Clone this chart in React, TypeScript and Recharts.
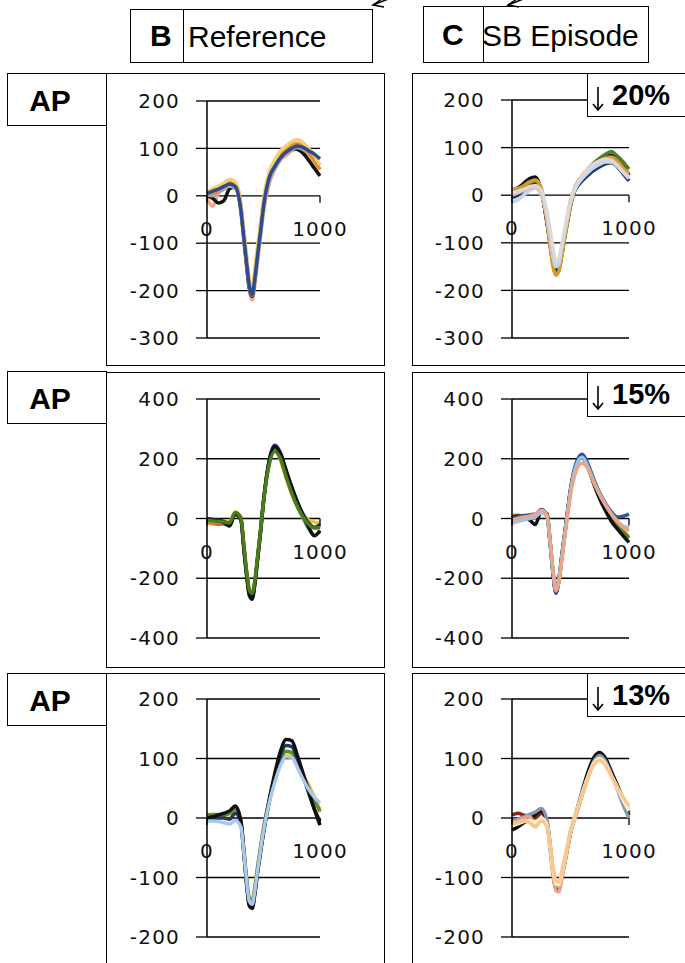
import React from 'react';
import { LineChart, Line, XAxis, YAxis, CartesianGrid, ReferenceDot } from 'recharts';

// sample times (x axis, 0..1000)
const X = [0, 50, 100, 150, 200, 250, 300, 325, 350, 375, 400, 425, 450, 475, 500, 550, 600, 650, 700, 750, 800, 850, 900, 950, 1000];
const X_LABELS = [0, 1000];

const TICKS_300 = [-300, -200, -100, 0, 100, 200];
const TICKS_400 = [-400, -200, 0, 200, 400];
const TICKS_200 = [-200, -100, 0, 100, 200];

// Row 1 — Reference
const r1RefSalmon = [-5, -22, 5, 15, 22, 18, -35, -95, -150, -200, -220, -185, -135, -85, -35, 25, 55, 75, 85, 95, 100, 95, 85, 70, 55];
const r1RefBlack = [0, -5, -15, -10, 15, 18, -28, -85, -145, -195, -212, -172, -118, -68, -18, 40, 68, 85, 95, 100, 98, 90, 75, 58, 42];
const r1RefGray = [2, 0, 8, 14, 20, 16, -32, -88, -142, -192, -210, -175, -125, -78, -28, 32, 58, 78, 90, 98, 102, 98, 90, 78, 65];
const r1RefOrange = [3, 6, 12, 22, 30, 26, -18, -75, -132, -185, -205, -160, -110, -62, -15, 45, 70, 90, 100, 108, 110, 104, 92, 75, 55];
const r1RefYellow = [8, 15, 20, 27, 35, 30, -20, -70, -125, -175, -200, -150, -100, -55, -8, 50, 75, 95, 105, 114, 118, 112, 100, 85, 65];
const r1RefBlue = [5, 10, 14, 20, 25, 20, -30, -85, -140, -190, -208, -170, -120, -72, -22, 38, 62, 80, 92, 100, 105, 102, 95, 88, 78];

// Row 1 — SB episode
const r1SbNavy = [-5, 0, 10, 20, 25, 5, -58, -100, -140, -160, -152, -120, -82, -48, -15, 15, 30, 42, 52, 60, 66, 68, 60, 45, 30];
const r1SbBlack = [10, 15, 25, 35, 38, 10, -60, -100, -140, -162, -155, -125, -88, -55, -22, 20, 35, 50, 62, 72, 80, 84, 78, 62, 42];
const r1SbGreen = [5, 8, 15, 25, 30, 8, -58, -102, -145, -165, -158, -128, -90, -56, -22, 22, 40, 55, 68, 78, 86, 92, 82, 70, 55];
const r1SbOrange = [12, 14, 20, 28, 32, 15, -55, -105, -150, -168, -160, -128, -90, -55, -20, 22, 38, 52, 64, 72, 78, 80, 72, 58, 45];
const r1SbLightBlue = [-15, -10, 0, 10, 15, 0, -50, -92, -130, -150, -145, -112, -78, -45, -12, 18, 35, 48, 58, 65, 70, 70, 62, 50, 38];
const r1SbSalmon = [0, 5, 10, 15, 18, 5, -45, -85, -120, -140, -135, -108, -75, -42, -12, 22, 42, 56, 66, 72, 76, 74, 64, 50, 38];
const r1SbSilver = [5, 8, 12, 18, 20, 10, -35, -70, -110, -140, -135, -105, -72, -42, -15, 20, 40, 55, 65, 72, 75, 72, 62, 48, 35];

// Row 2 — Reference
const r2RefYellow = [-15, -18, -15, -12, -10, 22, 5, -80, -170, -235, -255, -200, -115, -30, 60, 185, 228, 195, 135, 80, 38, 10, -5, -12, -15];
const r2RefRed = [-10, -15, -20, -18, -15, 15, -2, -90, -180, -248, -260, -205, -122, -35, 58, 188, 235, 205, 148, 92, 45, 8, -18, -30, -25];
const r2RefGray = [-5, -10, -12, -15, -20, 12, -3, -95, -185, -252, -265, -212, -128, -42, 50, 182, 232, 205, 145, 88, 40, 0, -35, -55, -45];
const r2RefNavy = [0, -3, -5, -10, -18, 18, 2, -90, -182, -250, -262, -210, -125, -38, 60, 195, 245, 220, 162, 105, 55, 15, -15, -30, -20];
const r2RefBlack = [-2, -5, -8, -15, -25, 15, -5, -100, -190, -258, -270, -215, -130, -40, 55, 190, 240, 215, 160, 105, 55, 10, -30, -58, -40];
const r2RefGreen = [-5, -8, -10, -12, -15, 20, 0, -85, -175, -240, -250, -205, -120, -35, 55, 180, 225, 200, 140, 85, 40, 5, -20, -32, -30];

// Row 2 — SB episode
const r2SbYellow = [10, 12, 8, 5, 8, 25, 8, -75, -175, -245, -212, -135, -58, 20, 92, 182, 208, 175, 125, 78, 38, 5, -20, -42, -60];
const r2SbGreen = [0, 3, 2, 0, 2, 22, 6, -78, -178, -246, -210, -133, -56, 22, 95, 180, 206, 172, 120, 72, 32, 0, -25, -45, -65];
const r2SbBlack = [5, 8, 5, -5, -20, 25, 15, -75, -180, -250, -205, -125, -50, 25, 95, 180, 205, 170, 115, 65, 25, -10, -35, -58, -80];
const r2SbNavy = [0, 5, 10, 12, 15, 30, 12, -80, -182, -248, -210, -132, -55, 22, 98, 188, 215, 182, 130, 85, 50, 22, 5, 8, 15];
const r2SbLightBlue = [-15, -10, -5, 0, 5, 20, 5, -78, -175, -242, -208, -132, -55, 20, 92, 178, 205, 172, 122, 80, 45, 15, -8, -25, -30];
const r2SbSalmon = [-5, 0, 5, 8, 15, 28, 10, -70, -170, -240, -215, -140, -65, 10, 80, 160, 185, 165, 120, 80, 45, 15, -10, -30, -42];

// Row 3 — Reference
const r3RefOrange = [2, 4, 5, 6, 8, 12, -6, -52, -102, -135, -140, -115, -80, -48, -18, 30, 68, 95, 110, 108, 92, 72, 55, 35, 10];
const r3RefYellow = [5, 6, 5, 4, 5, 10, -8, -55, -105, -138, -142, -118, -82, -50, -20, 28, 65, 92, 108, 106, 90, 70, 52, 35, 15];
const r3RefGreen = [5, 6, 6, 5, 8, 15, -4, -50, -100, -135, -138, -115, -80, -48, -18, 30, 68, 98, 112, 110, 92, 70, 50, 30, 12];
const r3RefNavy = [-3, -2, 0, 0, -2, 8, -10, -58, -110, -146, -150, -124, -88, -55, -24, 26, 70, 105, 122, 120, 98, 70, 42, 15, -5];
const r3RefBlack = [0, 2, 5, 8, 12, 20, -5, -55, -110, -148, -152, -125, -88, -55, -25, 30, 75, 112, 132, 130, 105, 75, 45, 15, -12];
const r3RefLightBlue = [-5, -5, -6, -8, -10, -4, -15, -55, -105, -140, -145, -120, -85, -52, -22, 25, 60, 88, 103, 102, 85, 65, 48, 35, 25];

// Row 3 — SB episode
const r3SbDarkRed = [5, 8, 5, 2, 0, 8, -10, -48, -90, -118, -120, -100, -76, -50, -24, 8, 40, 72, 96, 104, 96, 75, 54, 32, 10];
const r3SbBlack = [-20, -15, -8, -2, 5, 12, -8, -45, -88, -118, -118, -98, -75, -50, -25, 10, 45, 78, 102, 110, 100, 78, 55, 30, 5];
const r3SbBlueGray = [-5, -2, 2, 6, 10, 16, -4, -42, -85, -115, -116, -96, -72, -48, -24, 8, 40, 70, 95, 105, 95, 72, 48, 22, 0];
const r3SbSalmon = [-8, -5, 0, 2, -10, -2, -14, -52, -95, -122, -124, -102, -78, -52, -26, 6, 38, 68, 92, 100, 92, 72, 52, 32, 14];
const r3SbCream = [-12, -10, -6, -4, -8, 0, -12, -46, -84, -110, -112, -94, -70, -46, -22, 10, 42, 70, 92, 100, 90, 70, 50, 30, 12];
const r3SbPeach = [-10, -8, -5, -8, -15, -5, -15, -45, -80, -105, -108, -90, -68, -45, -20, 10, 40, 68, 90, 97, 88, 70, 52, 35, 20];

interface Trace {
  color: string;
  values: number[];
}

const FONT_TICK = 'DejaVu Sans, Verdana, sans-serif';
const FONT_LABEL = 'Liberation Sans, Arial, sans-serif';

function XTick({ cx, cy, label }: { cx?: number; cy?: number; label: number }) {
  if (cx == null || cy == null) return null;
  return (
    <g>
      <line x1={cx} y1={cy} x2={cx} y2={cy + 7} stroke="#000" strokeWidth={1.3} />
      <text x={cx} y={cy + 33} textAnchor="middle" dominantBaseline="central"
        fontSize={20} fontFamily={FONT_TICK} letterSpacing={1.2} fill="#111">
        {label}
      </text>
    </g>
  );
}

interface PanelProps {
  axisX: number;
  xEnd: number;
  yTop: number;
  yBot: number;
  ticks: number[];
  traces: Trace[];
}

function TracePanel({ axisX, xEnd, yTop, yBot, ticks, traces }: PanelProps) {
  const data = X.map((x, i) => {
    const row: Record<string, number> = { x };
    traces.forEach((t, k) => { row['s' + k] = t.values[i]; });
    return row;
  });
  const yAxisW = 90;
  const width = xEnd - axisX + yAxisW + 45;
  const height = yBot - yTop + 40;

  return (
    <div style={{ position: 'absolute', left: axisX - yAxisW, top: yTop - 20 }}>
      <LineChart width={width} height={height} data={data}
        margin={{ top: 20, right: 45, bottom: 20, left: 0 }}>
        <CartesianGrid vertical={false} stroke="#000" strokeWidth={1.3} />
        <XAxis dataKey="x" type="number" domain={[0, 1000]} hide />
        <YAxis type="number" domain={[ticks[0], ticks[ticks.length - 1]]} ticks={ticks} interval={0}
          width={yAxisW} allowDataOverflow
          axisLine={{ stroke: '#000', strokeWidth: 1.5 }}
          tickLine={{ stroke: '#000', strokeWidth: 1.3 }}
          tickSize={11} tickMargin={16}
          tick={{ fontSize: 20, fill: '#111', fontFamily: FONT_TICK, letterSpacing: 1.2 }} />
        {traces.map((t, k) => (
          <Line key={k} dataKey={'s' + k} type="monotone" stroke={t.color} strokeWidth={3.5}
            dot={false} isAnimationActive={false} />
        ))}
        {X_LABELS.map((v) => (
          <ReferenceDot key={v} x={v} y={0} ifOverflow="visible"
            shape={(p: any) => <XTick cx={p.cx} cy={p.cy} label={v} />} />
        ))}
      </LineChart>
    </div>
  );
}

function Box({ left, top, width, height, children, style }: {
  left: number; top: number; width: number; height: number;
  children?: React.ReactNode; style?: React.CSSProperties;
}) {
  return (
    <div style={{
      position: 'absolute', left, top, width, height, boxSizing: 'border-box',
      border: '1.5px solid #000', background: 'transparent', ...style,
    }}>
      {children}
    </div>
  );
}

function ApBox({ top }: { top: number }) {
  return (
    <Box left={7} top={top} width={100} height={53} style={{ background: '#fff' }}>
      <div style={{
        position: 'absolute', left: 0, right: 0, top: 4, textAlign: 'center', paddingRight: 14,
        fontFamily: FONT_LABEL, fontWeight: 700, fontSize: 30, lineHeight: '45px', color: '#000',
      }}>AP</div>
    </Box>
  );
}

function Badge({ top, height, text }: { top: number; height: number; text: string }) {
  return (
    <Box left={587} top={top} width={130} height={height} style={{ background: '#fff' }}>
      <svg width={20} height={height} style={{ position: 'absolute', left: 0, top: 0 }}>
        <g stroke="#000" strokeWidth={1.6} fill="none">
          <line x1={10} y1={13} x2={10} y2={36} />
          <polyline points="5,30 10,36 15,30" />
        </g>
      </svg>
      <div style={{
        position: 'absolute', left: 24, top: 0, whiteSpace: 'nowrap',
        fontFamily: FONT_LABEL, fontSize: 29, fontWeight: 700, lineHeight: `${height - 2}px`, color: '#000',
      }}>
        {text}
      </div>
    </Box>
  );
}

export default function App() {
  const r1Ref: Trace[] = [
    { color: '#f4a582', values: r1RefSalmon },
    { color: '#111111', values: r1RefBlack },
    { color: '#a6a6a6', values: r1RefGray },
    { color: '#e0902a', values: r1RefOrange },
    { color: '#f5cf72', values: r1RefYellow },
    { color: '#2f4b8f', values: r1RefBlue },
  ];
  const r1Sb: Trace[] = [
    { color: '#203864', values: r1SbNavy },
    { color: '#111111', values: r1SbBlack },
    { color: '#4f7f2b', values: r1SbGreen },
    { color: '#d69a2d', values: r1SbOrange },
    { color: '#bdd7ee', values: r1SbLightBlue },
    { color: '#f2b29a', values: r1SbSalmon },
    { color: '#dadada', values: r1SbSilver },
  ];
  const r2Ref: Trace[] = [
    { color: '#f2c82e', values: r2RefYellow },
    { color: '#d46a2a', values: r2RefRed },
    { color: '#a5a5a5', values: r2RefGray },
    { color: '#1f3864', values: r2RefNavy },
    { color: '#111111', values: r2RefBlack },
    { color: '#4a7b1e', values: r2RefGreen },
  ];
  const r2Sb: Trace[] = [
    { color: '#e2b42a', values: r2SbYellow },
    { color: '#4f7f2b', values: r2SbGreen },
    { color: '#111111', values: r2SbBlack },
    { color: '#2e5597', values: r2SbNavy },
    { color: '#9dc3e6', values: r2SbLightBlue },
    { color: '#eba58a', values: r2SbSalmon },
  ];
  const r3Ref: Trace[] = [
    { color: '#e89a2c', values: r3RefOrange },
    { color: '#ffd34d', values: r3RefYellow },
    { color: '#5b8c2a', values: r3RefGreen },
    { color: '#1f3864', values: r3RefNavy },
    { color: '#111111', values: r3RefBlack },
    { color: '#a9c8ea', values: r3RefLightBlue },
  ];
  const r3Sb: Trace[] = [
    { color: '#8b2a1a', values: r3SbDarkRed },
    { color: '#111111', values: r3SbBlack },
    { color: '#8497b0', values: r3SbBlueGray },
    { color: '#eea38a', values: r3SbSalmon },
    { color: '#fff0c8', values: r3SbCream },
    { color: '#f7c98e', values: r3SbPeach },
  ];

  return (
    <div style={{
      position: 'absolute', left: 0, top: 0, width: 685, height: 963, overflow: 'hidden',
      background: '#fff', fontFamily: FONT_LABEL,
    }}>
      {/* header arrows */}
      <svg width={685} height={20} style={{ position: 'absolute', left: 0, top: 0 }}>
        <g stroke="#000" strokeWidth={1.5} fill="none">
          <line x1={373} y1={5} x2={396} y2={-4} />
          <polyline points="382,-1 373,5 384,7" />
          <line x1={508} y1={5} x2={531} y2={-4} />
          <polyline points="517,-1 508,5 519,7" />
        </g>
      </svg>

      {/* column headers */}
      <Box left={130} top={9} width={243} height={54}>
        <div style={{ position: 'absolute', left: 52, top: 0, bottom: 0, borderLeft: '1.5px solid #000' }} />
        <div style={{ position: 'absolute', left: 19, top: 0, fontSize: 30, fontWeight: 700, lineHeight: '52px' }}>B</div>
        <div style={{ position: 'absolute', left: 57, top: 0, fontSize: 30, lineHeight: '54px' }}>Reference</div>
      </Box>
      <Box left={423} top={6} width={226} height={57}>
        <div style={{ position: 'absolute', left: 59, top: 0, bottom: 0, borderLeft: '1.5px solid #000' }} />
        <div style={{ position: 'absolute', left: 18, top: 0, fontSize: 30, fontWeight: 700, lineHeight: '56px' }}>C</div>
        <div style={{ position: 'absolute', left: 58, top: 0, fontSize: 30, lineHeight: '58px' }}>SB Episode</div>
      </Box>

      {/* panel frames */}
      <Box left={106} top={73} width={279} height={293} />
      <Box left={412} top={73} width={300} height={293} />
      <Box left={106} top={372} width={279} height={296} />
      <Box left={412} top={372} width={300} height={296} />
      <Box left={106} top={673} width={279} height={320} />
      <Box left={412} top={673} width={300} height={320} />

      <TracePanel axisX={207} xEnd={320} yTop={101} yBot={338} ticks={TICKS_300} traces={r1Ref} />
      <TracePanel axisX={512} xEnd={629} yTop={100} yBot={338} ticks={TICKS_300} traces={r1Sb} />
      <TracePanel axisX={207} xEnd={320} yTop={399} yBot={638} ticks={TICKS_400} traces={r2Ref} />
      <TracePanel axisX={512} xEnd={629} yTop={399} yBot={638} ticks={TICKS_400} traces={r2Sb} />
      <TracePanel axisX={207} xEnd={320} yTop={699} yBot={937} ticks={TICKS_200} traces={r3Ref} />
      <TracePanel axisX={512} xEnd={629} yTop={699} yBot={937} ticks={TICKS_200} traces={r3Sb} />

      <ApBox top={73} />
      <ApBox top={371} />
      <ApBox top={673} />

      <Badge top={73} height={44} text="20%" />
      <Badge top={372} height={45} text="15%" />
      <Badge top={673} height={44} text="13%" />
    </div>
  );
}
